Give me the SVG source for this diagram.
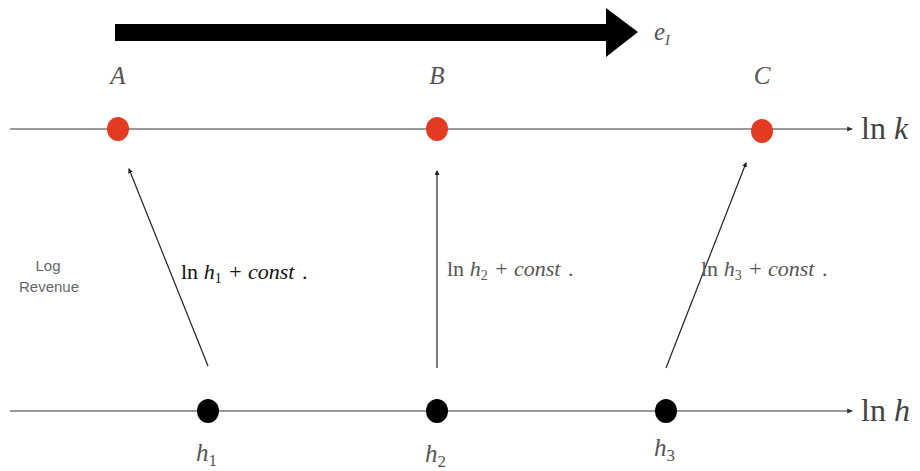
<svg xmlns="http://www.w3.org/2000/svg" width="920" height="471" viewBox="0 0 920 471">
<style>
.axis{stroke:#777;stroke-width:1.6;fill:none}
.conn{stroke:#222;stroke-width:1.2;fill:none}
.m{font-family:"Liberation Serif","DejaVu Serif",serif;font-style:italic;fill:#555}
.up{font-family:"Liberation Serif","DejaVu Serif",serif;fill:#444}
.lbl{font-family:"Liberation Serif","DejaVu Serif",serif;font-size:22px;white-space:pre}
.red{fill:#e23b22}
.blk{fill:#000}
.side{font-family:"Liberation Sans",Arial,sans-serif;font-size:15px;fill:#666}
</style>
<defs>
<marker id="tip" viewBox="0 0 10 10" refX="8" refY="5" markerWidth="5" markerHeight="5" orient="auto" markerUnits="userSpaceOnUse">
<path d="M0,0 L10,5 L0,10 z" fill="#222"/>
</marker>
<marker id="atip" viewBox="0 0 10 10" refX="8" refY="5" markerWidth="6" markerHeight="6" orient="auto" markerUnits="userSpaceOnUse">
<path d="M0,1 L10,5 L0,9 z" fill="#333"/>
</marker>
</defs>
<rect width="920" height="471" fill="#fff"/>
<g id="effort-arrow">
<polygon points="115,24 606,24 606,8 638,32 606,57 606,41 115,41" fill="#000"/>
<text x="654" y="40" class="m" font-size="25">e<tspan font-size="15" dy="5">I</tspan></text>
</g>
<g id="axes">
<line x1="10" y1="129" x2="852" y2="129" class="axis" marker-end="url(#atip)"/>
<text x="861" y="139" class="up" font-size="32">ln <tspan font-style="italic">k</tspan></text>
<line x1="10" y1="411" x2="852" y2="411" class="axis" marker-end="url(#atip)"/>
<text x="861" y="421" class="up" font-size="32">ln <tspan font-style="italic">h</tspan></text>
</g>
<g id="node-A">
<ellipse cx="118" cy="129" rx="11" ry="12" class="red"/>
<text x="118" y="84" class="m" font-size="25" text-anchor="middle">A</text>
</g>
<g id="node-B">
<ellipse cx="437" cy="129" rx="11" ry="12" class="red"/>
<text x="437" y="84" class="m" font-size="25" text-anchor="middle">B</text>
</g>
<g id="node-C">
<ellipse cx="762" cy="131" rx="11" ry="12" class="red"/>
<text x="762" y="84" class="m" font-size="25" text-anchor="middle">C</text>
</g>
<g id="node-h1">
<ellipse cx="208" cy="411" rx="11" ry="12" class="blk"/>
<text x="196" y="461" class="m" font-size="25">h<tspan font-size="17" dy="5" font-style="normal">1</tspan></text>
</g>
<g id="node-h2">
<ellipse cx="437" cy="411" rx="11" ry="12" class="blk"/>
<text x="425" y="462" class="m" font-size="25">h<tspan font-size="17" dy="5" font-style="normal">2</tspan></text>
</g>
<g id="node-h3">
<ellipse cx="666" cy="411" rx="11" ry="12" class="blk"/>
<text x="654" y="456" class="m" font-size="25">h<tspan font-size="17" dy="5" font-style="normal">3</tspan></text>
</g>
<g id="connectors">
<line x1="208" y1="366" x2="129" y2="169" class="conn" marker-end="url(#tip)"/>
<line x1="437" y1="368" x2="437" y2="171" class="conn" marker-end="url(#tip)"/>
<line x1="666" y1="368" x2="746" y2="163" class="conn" marker-end="url(#tip)"/>
</g>
<g id="labels">
<text x="181" y="279" class="lbl" fill="#111">ln <tspan font-style="italic">h</tspan><tspan font-size="14" dy="4">1</tspan><tspan dy="-4" dx="2"> + </tspan><tspan font-style="italic" dx="1">const</tspan><tspan dx="2"> .</tspan></text>
<text x="447" y="276" class="lbl" fill="#555">ln <tspan font-style="italic">h</tspan><tspan font-size="14" dy="4">2</tspan><tspan dy="-4" dx="2"> + </tspan><tspan font-style="italic" dx="1">const</tspan><tspan dx="2"> .</tspan></text>
<text x="701" y="276" class="lbl" fill="#555">ln <tspan font-style="italic">h</tspan><tspan font-size="14" dy="4">3</tspan><tspan dy="-4" dx="2"> + </tspan><tspan font-style="italic" dx="1">const</tspan><tspan dx="2"> .</tspan></text>
<text x="48" y="271" class="side" text-anchor="middle">Log</text>
<text x="49" y="292" class="side" text-anchor="middle">Revenue</text>
</g>
</svg>
